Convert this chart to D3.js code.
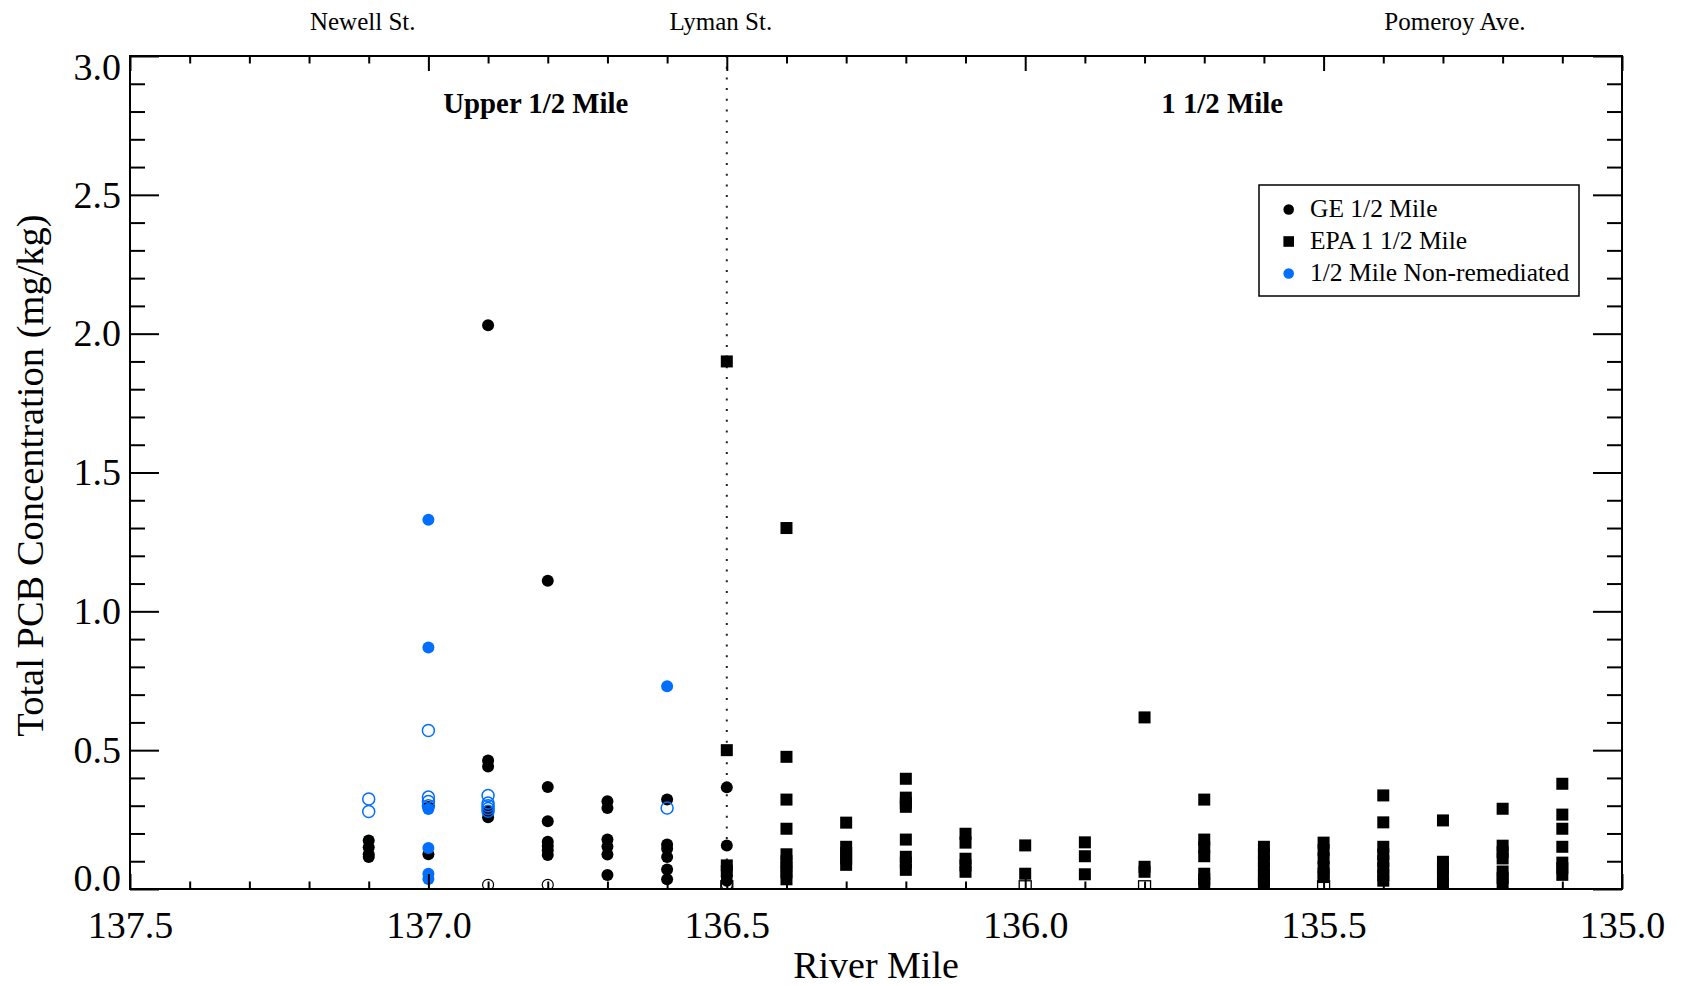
<!DOCTYPE html>
<html>
<head>
<meta charset="utf-8">
<script src="https://cdn.jsdelivr.net/npm/d3@7"></script>
<style>
  html, body { margin: 0; padding: 0; background: #fff; }
  svg { display: block; }
  text { font-family: "Liberation Serif", "Times New Roman", Times, serif; fill: #000; }
</style>
</head>
<body>
<svg id="chart" width="1682" height="986"></svg>
<script>
// ---------------- DATA ----------------
// GE 1/2 Mile (filled black circles): [river mile, [concentrations]]
const geFilled = [
  [137.1, [0.175, 0.15, 0.125, 0.115]],
  [137.0, [0.295, 0.125]],
  [136.9, [2.03, 0.463, 0.441, 0.28, 0.258]],
  [136.8, [1.11, 0.367, 0.244, 0.17, 0.155, 0.14, 0.122]],
  [136.7, [0.316, 0.292, 0.178, 0.153, 0.124, 0.05]],
  [136.6, [0.322, 0.16, 0.145, 0.115, 0.07, 0.035]],
  [136.5, [0.366, 0.157, 0.045, 0.03]]
];
// GE 1/2 Mile non-detects (open black circles)
const geOpen = [
  [136.9, [0.015]],
  [136.8, [0.015]],
  [136.5, [0.015]]
];
// EPA 1 1/2 Mile (filled black squares)
const epaFilled = [
  [136.5, [1.90, 0.50, 0.085, 0.065]],
  [136.4, [1.30, 0.476, 0.322, 0.217, 0.125, 0.10, 0.08, 0.06, 0.035]],
  [136.3, [0.239, 0.152, 0.13, 0.11, 0.087]],
  [136.2, [0.397, 0.329, 0.31, 0.296, 0.178, 0.116, 0.095, 0.069]],
  [136.1, [0.199, 0.167, 0.109, 0.085, 0.062]],
  [136.0, [0.157, 0.055]],
  [135.9, [0.168, 0.118, 0.053]],
  [135.8, [0.618, 0.080, 0.062]],
  [135.7, [0.322, 0.178, 0.15, 0.118, 0.055, 0.035, 0.019]],
  [135.6, [0.152, 0.125, 0.10, 0.075, 0.05, 0.03, 0.019]],
  [135.5, [0.167, 0.14, 0.11, 0.08, 0.055, 0.043]],
  [135.4, [0.337, 0.240, 0.152, 0.125, 0.10, 0.075, 0.05, 0.03]],
  [135.3, [0.247, 0.098, 0.075, 0.05, 0.019]],
  [135.2, [0.289, 0.156, 0.133, 0.110, 0.063, 0.04, 0.019]],
  [135.1, [0.379, 0.268, 0.217, 0.152, 0.095, 0.075, 0.051]]
];
// EPA non-detects (open squares)
const epaOpen = [
  [136.5, [0.008]],
  [136.0, [0.008]],
  [135.8, [0.008]],
  [135.5, [0.008]]
];
// 1/2 Mile Non-remediated (filled blue circles)
const nrFilled = [
  [137.0, [1.33, 0.87, 0.288, 0.148, 0.055, 0.036]],
  [136.6, [0.73]]
];
// 1/2 Mile Non-remediated non-detects (open blue circles)
const nrOpen = [
  [137.1, [0.324, 0.279]],
  [137.0, [0.571, 0.331, 0.315, 0.30]],
  [136.9, [0.337, 0.31, 0.30, 0.29, 0.28]],
  [136.6, [0.292]]
];

const xMajorTicks = [137.5, 137.0, 136.5, 136.0, 135.5, 135.0];
const xMinorTicks = [137.4, 137.3, 137.2, 137.1, 136.9, 136.8, 136.7, 136.6, 136.4, 136.3, 136.2, 136.1,
                     135.9, 135.8, 135.7, 135.6, 135.4, 135.3, 135.2, 135.1];
const yMajorTicks = [0.0, 0.5, 1.0, 1.5, 2.0, 2.5, 3.0];
const yMinorTicks = [0.1, 0.2, 0.3, 0.4, 0.6, 0.7, 0.8, 0.9, 1.1, 1.2, 1.3, 1.4, 1.6, 1.7, 1.8, 1.9,
                     2.1, 2.2, 2.3, 2.4, 2.6, 2.7, 2.8, 2.9];

const landmarkNames = ["Newell St.", "Lyman St.", "Pomeroy Ave."];
const landmarkMiles = [137.11, 136.51, 135.28];
const reachNames = ["Upper 1/2 Mile", "1 1/2 Mile"];
const reachMiles = [136.82, 135.67];
const reachBoundary = 136.5;

const legendLabels = ["GE 1/2 Mile", "EPA 1 1/2 Mile", "1/2 Mile Non-remediated"];

// ---------------- LAYOUT ----------------
const BLUE = "#006eff";
const L = 130, R = 1622, T = 56, B = 889;
const svg = d3.select("#chart");

const x = d3.scaleLinear().domain([137.5, 135.0]).range([L, R]);
const y = d3.scaleLinear().domain([0, 3]).range([B, T]);

const flat = arr => arr.flatMap(([m, vals]) => vals.map(v => ({m, v})));

svg.append("defs").append("clipPath").attr("id", "plotclip")
  .append("rect").attr("x", L).attr("y", T).attr("width", R - L).attr("height", B - T);

// dotted boundary
svg.append("line")
  .attr("x1", x(reachBoundary)).attr("x2", x(reachBoundary))
  .attr("y1", T).attr("y2", B)
  .attr("stroke", "#222").attr("stroke-width", 2)
  .attr("stroke-dasharray", "2,8.7");

// markers
const g = svg.append("g").attr("clip-path", "url(#plotclip)");
const S = 12;
g.selectAll("rect.epa").data(flat(epaFilled)).join("rect").attr("class", "epa")
  .attr("x", d => x(d.m) - S / 2).attr("y", d => y(d.v) - S / 2)
  .attr("width", S).attr("height", S).attr("fill", "#000");
g.selectAll("rect.epaopen").data(flat(epaOpen)).join("rect").attr("class", "epaopen")
  .attr("x", d => x(d.m) - S / 2).attr("y", d => y(d.v) - S / 2)
  .attr("width", S).attr("height", S).attr("fill", "none").attr("stroke", "#000").attr("stroke-width", 1.3);
g.selectAll("circle.ge").data(flat(geFilled)).join("circle").attr("class", "ge")
  .attr("cx", d => x(d.m)).attr("cy", d => y(d.v)).attr("r", 6).attr("fill", "#000");
g.selectAll("circle.geopen").data(flat(geOpen)).join("circle").attr("class", "geopen")
  .attr("cx", d => x(d.m)).attr("cy", d => y(d.v)).attr("r", 5.5)
  .attr("fill", "none").attr("stroke", "#000").attr("stroke-width", 1.2);
g.selectAll("circle.nr").data(flat(nrFilled)).join("circle").attr("class", "nr")
  .attr("cx", d => x(d.m)).attr("cy", d => y(d.v)).attr("r", 6).attr("fill", BLUE);
g.selectAll("circle.nropen").data(flat(nrOpen)).join("circle").attr("class", "nropen")
  .attr("cx", d => x(d.m)).attr("cy", d => y(d.v)).attr("r", 6)
  .attr("fill", "none").attr("stroke", BLUE).attr("stroke-width", 1.5);

// axes (ticks inside)
const FS = 38;
function styleAxis(sel) {
  sel.select(".domain").remove();
  sel.selectAll(".tick line").attr("stroke", "#000").attr("stroke-width", 2);
  sel.selectAll("text").attr("font-size", FS).attr("font-family", '"Liberation Serif", "Times New Roman", serif').attr("fill", "#000");
}
// bottom
svg.append("g").attr("transform", `translate(0,${B})`)
  .call(d3.axisBottom(x).tickValues(xMajorTicks).tickFormat(d3.format(".1f")).tickSizeInner(-15).tickSizeOuter(0).tickPadding(22))
  .call(styleAxis);
svg.append("g").attr("transform", `translate(0,${B})`)
  .call(d3.axisBottom(x).tickValues(xMinorTicks).tickFormat("").tickSizeInner(-7.5).tickSizeOuter(0))
  .call(styleAxis);
// top
svg.append("g").attr("transform", `translate(0,${T})`)
  .call(d3.axisTop(x).tickValues(xMajorTicks).tickFormat("").tickSizeInner(-15).tickSizeOuter(0))
  .call(styleAxis);
svg.append("g").attr("transform", `translate(0,${T})`)
  .call(d3.axisTop(x).tickValues(xMinorTicks).tickFormat("").tickSizeInner(-7.5).tickSizeOuter(0))
  .call(styleAxis);
// left
const leftAx = svg.append("g").attr("transform", `translate(${L},0)`)
  .call(d3.axisLeft(y).tickValues(yMajorTicks).tickFormat(d3.format(".1f")).tickSizeInner(-29).tickSizeOuter(0).tickPadding(9))
  .call(styleAxis);
leftAx.selectAll(".tick text").attr("transform", d => d === 3 ? "translate(0,11)" : d === 0 ? "translate(0,-11)" : null);
svg.append("g").attr("transform", `translate(${L},0)`)
  .call(d3.axisLeft(y).tickValues(yMinorTicks).tickFormat("").tickSizeInner(-15).tickSizeOuter(0))
  .call(styleAxis);
// right
svg.append("g").attr("transform", `translate(${R},0)`)
  .call(d3.axisRight(y).tickValues(yMajorTicks).tickFormat("").tickSizeInner(-29).tickSizeOuter(0))
  .call(styleAxis);
svg.append("g").attr("transform", `translate(${R},0)`)
  .call(d3.axisRight(y).tickValues(yMinorTicks).tickFormat("").tickSizeInner(-15).tickSizeOuter(0))
  .call(styleAxis);

// frame
svg.append("rect").attr("x", L).attr("y", T).attr("width", R - L).attr("height", B - T)
  .attr("fill", "none").attr("stroke", "#000").attr("stroke-width", 2);

// axis titles
svg.append("text").attr("x", (L + R) / 2).attr("y", 978).attr("text-anchor", "middle")
  .attr("font-size", 38).text("River Mile");
svg.append("text").attr("transform", `translate(43,${(T + B) / 2 + 3}) rotate(-90)`)
  .attr("text-anchor", "middle").attr("font-size", 38.5).text("Total PCB Concentration (mg/kg)");

// landmarks on top
svg.selectAll("text.landmark").data(landmarkNames).join("text").attr("class", "landmark")
  .attr("x", (d, i) => x(landmarkMiles[i])).attr("y", 30).attr("text-anchor", "middle")
  .attr("font-size", 25).text(d => d);

// reach labels
svg.selectAll("text.reach").data(reachNames).join("text").attr("class", "reach")
  .attr("x", (d, i) => x(reachMiles[i])).attr("y", 113).attr("text-anchor", "middle")
  .attr("font-size", 28.8).attr("font-weight", "bold").text(d => d);

// legend
const lg = svg.append("g");
lg.append("rect").attr("x", 1259).attr("y", 185).attr("width", 320).attr("height", 111)
  .attr("fill", "#fff").attr("stroke", "#000").attr("stroke-width", 1.5);
const rowY = [209.5, 241.5, 273.5];
lg.append("circle").attr("cx", 1288.7).attr("cy", rowY[0]).attr("r", 5.3).attr("fill", "#000");
lg.append("rect").attr("x", 1288.7 - 5.3).attr("y", rowY[1] - 5.3).attr("width", 10.6).attr("height", 10.6).attr("fill", "#000");
lg.append("circle").attr("cx", 1288.7).attr("cy", rowY[2]).attr("r", 5.3).attr("fill", BLUE);
lg.selectAll("text").data(legendLabels).join("text")
  .attr("x", 1310).attr("y", (d, i) => rowY[i] + 7.5).attr("font-size", 25.5).text(d => d);
</script>
</body>
</html>
